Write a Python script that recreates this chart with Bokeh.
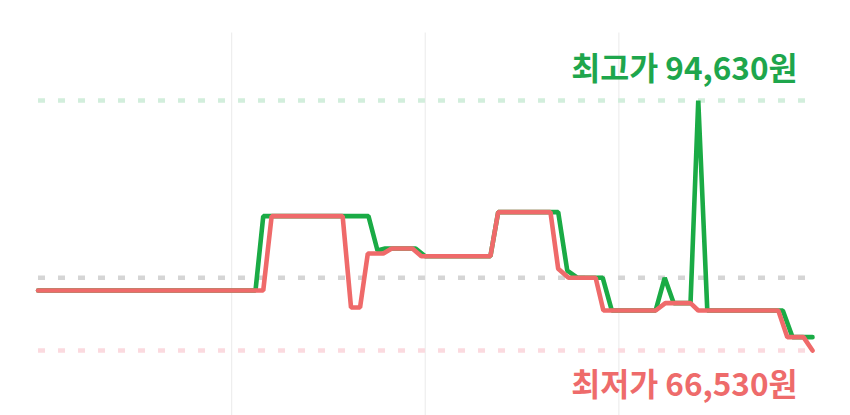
from bokeh.plotting import figure
from bokeh.embed import file_html
from bokeh.resources import INLINE
from bokeh.models import Range1d, ColumnDataSource
from bokeh.core.properties import value

# ---- data (day index over a 120-day window, price in KRW) ----
low_days = [0, 34.9, 36.2, 47.2, 48.5, 49.9, 51.1, 53.5, 54.8, 58.0, 59.4, 70.1, 71.3,
            79.4, 80.6, 82.2, 86.4, 87.6, 95.7, 97.2, 101.1, 102.3, 114.7, 116.1, 118.6, 120]
low_prices = [73270, 73270, 81630, 81630, 71360, 71360, 77430, 77430, 78000, 78000, 77130,
              77130, 82080, 82080, 75710, 74700, 74700, 71030, 71030, 71850, 71850, 71030,
              71030, 68030, 68030, 66530]

high_days = [0, 33.7, 34.9, 51.2, 52.6, 53.8, 58.5, 60.0, 70.1, 71.3, 80.6, 82.0, 83.6,
             87.5, 88.9, 95.7, 97.1, 98.5, 101.1, 102.3, 103.7, 115.4, 116.9, 120]
high_prices = [73270, 73270, 81630, 81630, 77770, 78000, 78000, 77130, 77130, 82080, 82080,
               75520, 74700, 74700, 71030, 71030, 74700, 71850, 71850, 94630, 71030, 71030,
               68030, 68030]

max_price = 94630
avg_price = 74700
min_price = 66530
grid_days = [30, 60, 90]
max_label = "최고가 94,630원"
min_label = "최저가 66,530원"

# ---- layout ----
W, H = 850, 415
x_left_px, x_right_px = 37.5, 812.0      # canvas px of first/last day
y_max_px, y_min_px = 100.0, 350.0        # canvas px of max/min price
d0, d1 = min(low_days), max(low_days)
upx = (d1 - d0) / (x_right_px - x_left_px)
vpx = (max_price - min_price) / (y_min_px - y_max_px)

p = figure(width=W, height=H, output_backend="svg", toolbar_location=None,
           min_border=0, outline_line_color=None, background_fill_color="white")
p.x_range = Range1d(d0 - x_left_px * upx, d1 + (W - x_right_px) * upx)
p.y_range = Range1d(min_price - (H - y_min_px) * vpx, max_price + y_max_px * vpx)
p.axis.visible = False
p.grid.visible = False

# vertical grid lines
g_top = max_price + (y_max_px - 32) * vpx
g_bot = p.y_range.start
p.segment(x0=grid_days, x1=grid_days, y0=[g_bot] * 3, y1=[g_top] * 3,
          line_color="#EEEEEE", line_width=1.2)

# reference dotted lines
ref_src = ColumnDataSource(dict(
    x0=[d0] * 3, x1=[d1 - 0.6] * 3, y=[max_price, avg_price, min_price],
    c=["#D2EEDC", "#D5D5D5", "#FBDADF"]))
p.segment(x0="x0", x1="x1", y0="y", y1="y", source=ref_src, line_color="c",
          line_width=4.5, line_dash="7 13")

# series
p.line(high_days, high_prices, line_color="#1AAB45", line_width=4.6, line_cap="round")
p.line(low_days, low_prices, line_color="#EF6A6A", line_width=4.6, line_cap="round")

# labels
p.text(x=[d1], y=[max_price], text=[max_label], text_align="right", text_baseline="middle",
       x_offset=-15, y_offset=-35, text_color="#1EA64C", text_font_size="31.5px",
       text_font=value("Noto Sans CJK KR"), text_font_style="bold")
p.text(x=[d1], y=[min_price], text=[min_label], text_align="right", text_baseline="middle",
       x_offset=-15, y_offset=31, text_color="#EE6B6B", text_font_size="31.5px",
       text_font=value("Noto Sans CJK KR"), text_font_style="bold")

open("out.html", "w").write(file_html(p, INLINE))
